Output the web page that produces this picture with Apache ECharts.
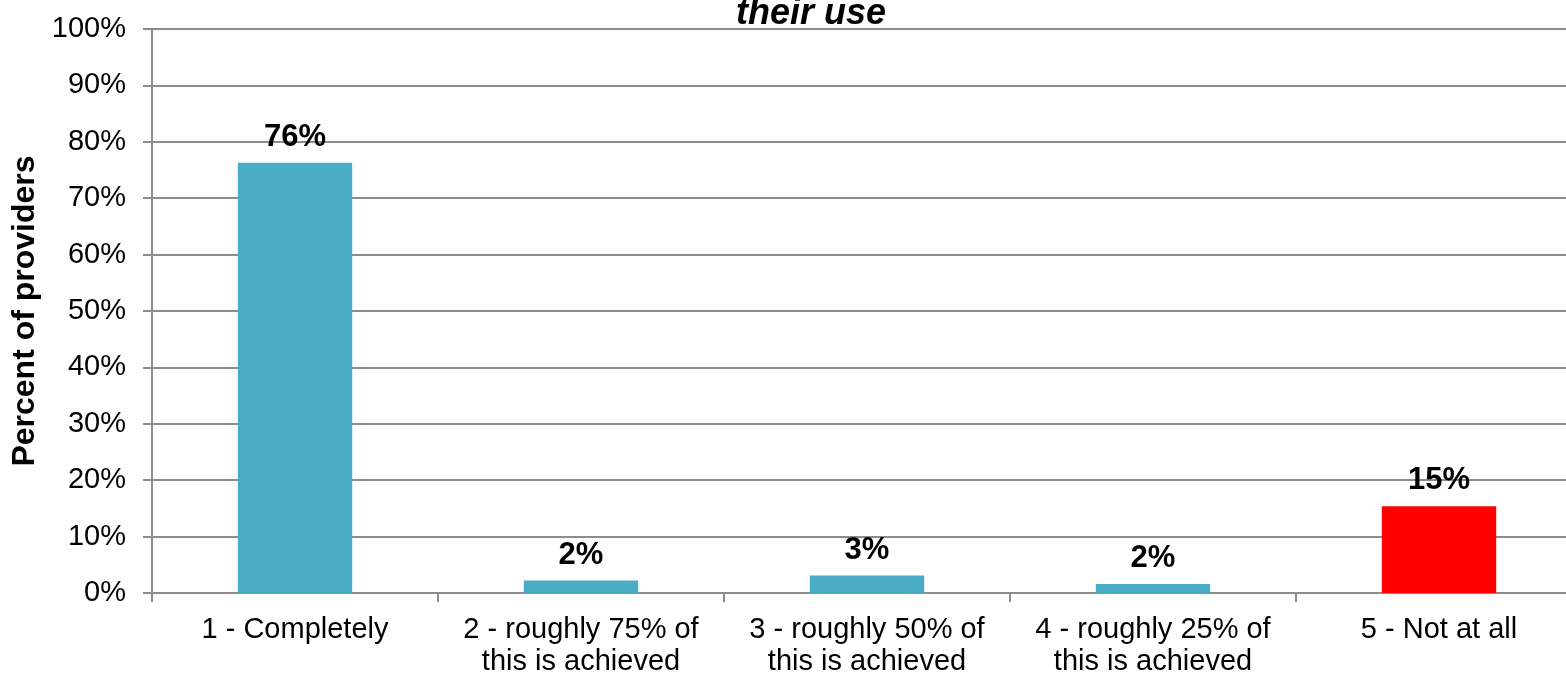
<!DOCTYPE html>
<html>
<head>
<meta charset="utf-8">
<script src="https://cdn.jsdelivr.net/npm/echarts@6/dist/echarts.min.js"></script>
<style>
  html, body { margin: 0; padding: 0; background: #ffffff; }
  #chart { width: 1566px; height: 673px; }
</style>
</head>
<body>
<div id="chart"></div>
<script>
// Survey responses: how far providers' goals are met
const categories = [
  '1 - Completely',
  '2 - roughly 75% of\nthis is achieved',
  '3 - roughly 50% of\nthis is achieved',
  '4 - roughly 25% of\nthis is achieved',
  '5 - Not at all'
];
const percentValues = [76.3, 2.2, 3.1, 1.6, 15.4];
const barColors = ['#4BACC6', '#4BACC6', '#4BACC6', '#4BACC6', '#FF0000'];
const yTicks = [0, 10, 20, 30, 40, 50, 60, 70, 80, 90, 100];

const FONT = '"Liberation Sans", Arial, sans-serif';
const GRID_GREY = '#8c8c8c';

const chart = echarts.init(document.getElementById('chart'), null, { renderer: 'canvas' });

chart.setOption({
  backgroundColor: '#ffffff',
  animation: false,
  title: {
    text: 'their use',
    left: 806,
    textAlign: 'center',
    top: -9,
    textStyle: {
      fontFamily: FONT,
      fontSize: 36,
      fontWeight: 'bold',
      fontStyle: 'italic',
      color: '#000000'
    }
  },
  grid: {
    left: 152,
    width: 1430,
    top: 29,
    height: 564,
    containLabel: false,
    outerBoundsMode: 'none'
  },
  xAxis: {
    type: 'category',
    data: categories,
    axisLine: { show: true, lineStyle: { color: GRID_GREY, width: 2 } },
    axisTick: { show: true, length: 9, alignWithLabel: false, lineStyle: { color: GRID_GREY, width: 2 } },
    axisLabel: {
      interval: 0,
      margin: 21,
      fontFamily: FONT,
      fontSize: 29,
      lineHeight: 32,
      color: '#000000',
      align: 'center'
    },
    splitLine: { show: false }
  },
  yAxis: {
    type: 'value',
    min: 0,
    max: 100,
    interval: 10,
    name: 'Percent of providers',
    nameLocation: 'middle',
    nameGap: 108,
    nameRotate: 90,
    nameTextStyle: {
      fontFamily: FONT,
      fontSize: 32,
      fontWeight: 'bold',
      color: '#000000'
    },
    axisLine: { show: true, lineStyle: { color: GRID_GREY, width: 2 } },
    axisTick: { show: true, length: 9, lineStyle: { color: GRID_GREY, width: 2 } },
    axisLabel: {
      margin: 26,
      padding: [5, 0, 0, 0],
      fontFamily: FONT,
      fontSize: 29,
      color: '#000000',
      formatter: function (v) { return yTicks.indexOf(v) >= 0 ? v + '%' : ''; }
    },
    splitLine: { show: true, lineStyle: { color: GRID_GREY, width: 2 } }
  },
  series: [{
    type: 'bar',
    barCategoryGap: '60%',
    data: percentValues.map(function (v, i) {
      return { value: v, itemStyle: { color: barColors[i] } };
    }),
    label: {
      show: true,
      position: 'top',
      distance: 10,
      fontFamily: FONT,
      fontSize: 31,
      fontWeight: 'bold',
      color: '#000000',
      formatter: function (p) { return Math.round(p.value) + '%'; }
    }
  }]
});
</script>
</body>
</html>
